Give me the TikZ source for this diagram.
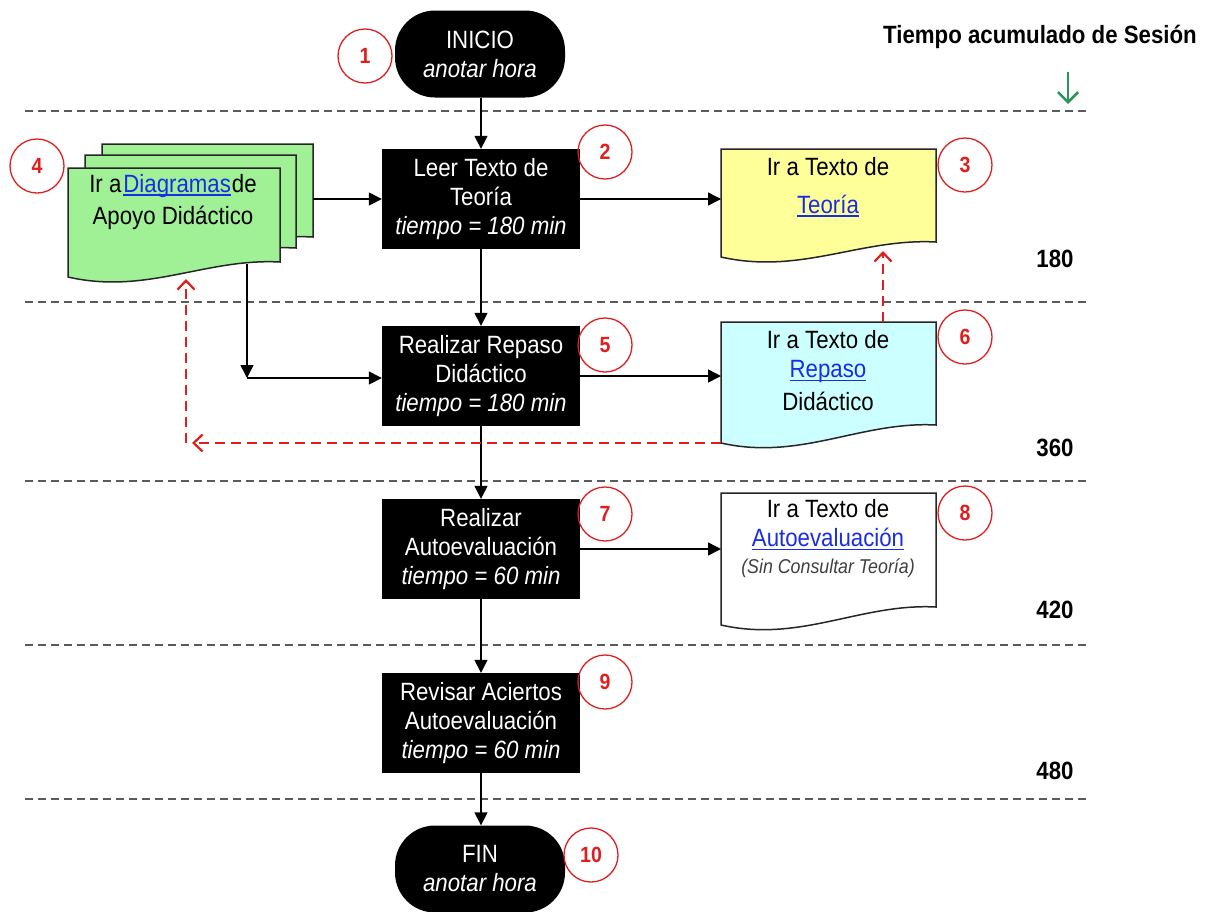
\documentclass[tikz,border=0pt]{standalone}
\usepackage{fontspec}
\setmainfont{Liberation Sans}[FakeStretch=0.89]
\usetikzlibrary{arrows.meta}
\definecolor{docgreen}{RGB}{160,240,150}
\definecolor{docyellow}{RGB}{255,255,153}
\definecolor{doccyan}{RGB}{204,255,255}
\definecolor{numred}{RGB}{225,30,30}
\definecolor{linkblue}{RGB}{25,45,230}
\definecolor{dashgray}{RGB}{90,90,90}
\definecolor{arrowgreen}{RGB}{40,150,90}
\newcommand{\lnk}[1]{{\color{linkblue}\sbox0{#1}\rlap{\rule[-3.5pt]{\wd0}{1.6pt}}\usebox0}}
\newcommand{\docpath}[6]{%
  \filldraw[docline, fill=#6] (#1,#2) -- (#3,#2) -- (#3,#5)
    .. controls ({#3-0.35*(#3-#1)},{#5-4}) and ({#1+0.37*(#3-#1)},{#4+18}) .. (#1,#4) -- cycle;}
\tikzset{
  blackbox/.style={fill=black, text=white, minimum width=198pt, minimum height=100pt, align=center, inner sep=0pt},
  terminal/.style={fill=black, text=white, rounded corners=40pt, minimum width=170pt, minimum height=87pt, align=center, inner sep=0pt},
  num/.style={circle, draw=numred, line width=1.3pt, minimum size=54pt, inner sep=0pt, text=numred, font=\bfseries\fontsize{22}{22}\selectfont},
  flow/.style={line width=1.5pt, -{Triangle[length=13pt,width=13pt]}},
  redflow/.style={draw=numred, line width=2.2pt, dash pattern=on 10pt off 6pt, -{Straight Barb[length=9pt,width=17pt]}},
  sepline/.style={draw=dashgray, line width=1.5pt, dash pattern=on 8pt off 5pt},
  docline/.style={draw=black!85, line width=1.5pt},
  doctext/.style={align=center, inner sep=0pt},
  docarea/.style={inner sep=0pt, anchor=north west},
  tnum/.style={font=\bfseries\fontsize{25}{25}\selectfont, inner sep=0pt}
}
\begin{document}
\begin{tikzpicture}[x=1pt, y=-1pt, font=\fontsize{25}{29}\selectfont]
\useasboundingbox (0,0) rectangle (1215,911);
\fill[white] (0,0) rectangle (1215,911);
% separators
\foreach \yy in {111,302,481,645,799} {\draw[sepline] (25,\yy) -- (1090,\yy);}
% title
\node[font=\bfseries\fontsize{25}{25}\selectfont, inner sep=0pt] (title) at (1040,37) {Tiempo acumulado de Sesión};
\coordinate (g1) at (1068,72);
\coordinate (g2) at (1068,104);
\draw[arrowgreen, line width=2.6pt, -{Straight Barb[length=10pt,width=20pt]}] (g1) -- (g2);
% documents
\docpath{102}{144}{313}{252}{237}{docgreen}
\docpath{85}{155}{296}{263}{248}{docgreen}
\docpath{68}{168}{280}{277}{262}{docgreen}
\docpath{721}{149}{936}{257}{242}{docyellow}
\docpath{721}{322}{936}{443}{425}{doccyan}
\docpath{721}{493}{936}{625}{607}{white}
\node[docarea, minimum width=211pt, minimum height=93pt] (d4) at (102,144) {};
\node[docarea, minimum width=212pt, minimum height=94pt] (d4f) at (68,168) {};
\node[docarea, minimum width=215pt, minimum height=93pt] (d3) at (721,149) {};
\node[docarea, minimum width=215pt, minimum height=103pt] (d6) at (721,322) {};
\node[docarea, minimum width=215pt, minimum height=114pt] (d8) at (721,493) {};
\node[doctext] (t4) at (173,202) {Ir a\hspace{2pt}\lnk{Diagramas}\hspace{1pt}de\\[3pt]Apoyo Didáctico};
\node[doctext] (t3) at (828,187) {Ir a Texto de\\[9pt]\lnk{Teoría}};
\node[doctext] (t6) at (828,371) {Ir a Texto de\\\lnk{Repaso}\\[4pt]Didáctico};
\node[doctext] (t8) at (828,539) {Ir a Texto de\\\lnk{Autoevaluación}\\[-2pt]{\fontsize{20}{22}\selectfont\itshape\color{black!75}(Sin Consultar Teoría)}};
% main boxes
\node[terminal] (start) at (480,54) {INICIO\\\textit{anotar hora}};
\node[blackbox] (b2) at (481,199) {Leer Texto de\\Teoría\\\textit{tiempo = 180 min}};
\node[blackbox] (b5) at (481,376) {Realizar Repaso\\Didáctico\\\textit{tiempo = 180 min}};
\node[blackbox] (b7) at (481,549) {Realizar\\Autoevaluación\\\textit{tiempo = 60 min}};
\node[blackbox] (b9) at (481,723) {Revisar Aciertos\\Autoevaluación\\\textit{tiempo = 60 min}};
\node[terminal] (end) at (480,869) {FIN\\\textit{anotar hora}};
% connectors
\draw[flow] (start.south -| b2.north) -- (b2.north);
\draw[flow] (b2) -- (b5);
\draw[flow] (b5) -- (b7);
\draw[flow] (b7) -- (b9);
\draw[flow] (b9.south) -- (b9.south |- end.north);
\draw[flow] (b2.west -| d4.east) -- (b2.west);
\draw[flow] (b2.east) -- (b2.east -| d3.west);
\draw[flow] (b5.east) -- (b5.east -| d6.west);
\draw[flow] (b7.east) -- (b7.east -| d8.west);
\coordinate (c4) at (247,264);
\coordinate (c45) at (247,378);
\draw[flow] (c4) -- (c45);
\draw[flow] (c45) -- (c45 -| b5.west);
% red feedback
\coordinate (r6) at (721,443);
\coordinate (rc) at (186,443);
\coordinate (rch) at (192,443);
\coordinate (r4) at (186,279);
\draw[redflow] (r6) -- (rch);
\draw[redflow] (rc) -- (r4);
\coordinate (r6t) at (883,322);
\coordinate (r3b) at (883,251);
\draw[redflow] (r6t) -- (r3b);
% step numbers
\node[num] (n1) at (365,56) {1};
\node[num] (n2) at (605,152) {2};
\node[num] (n3) at (965,165) {3};
\node[num] (n4) at (37,166) {4};
\node[num] (n5) at (605,345) {5};
\node[num] (n6) at (965,337) {6};
\node[num] (n7) at (605,514) {7};
\node[num] (n8) at (965,513) {8};
\node[num] (n9) at (605,682) {9};
\node[num] (n10) at (591,855) {10};
% accumulated time
\node[tnum] (m180) at (1055,259) {180};
\node[tnum] (m360) at (1055,448) {360};
\node[tnum] (m420) at (1055,610) {420};
\node[tnum] (m480) at (1055,771) {480};
\end{tikzpicture}
\end{document}
